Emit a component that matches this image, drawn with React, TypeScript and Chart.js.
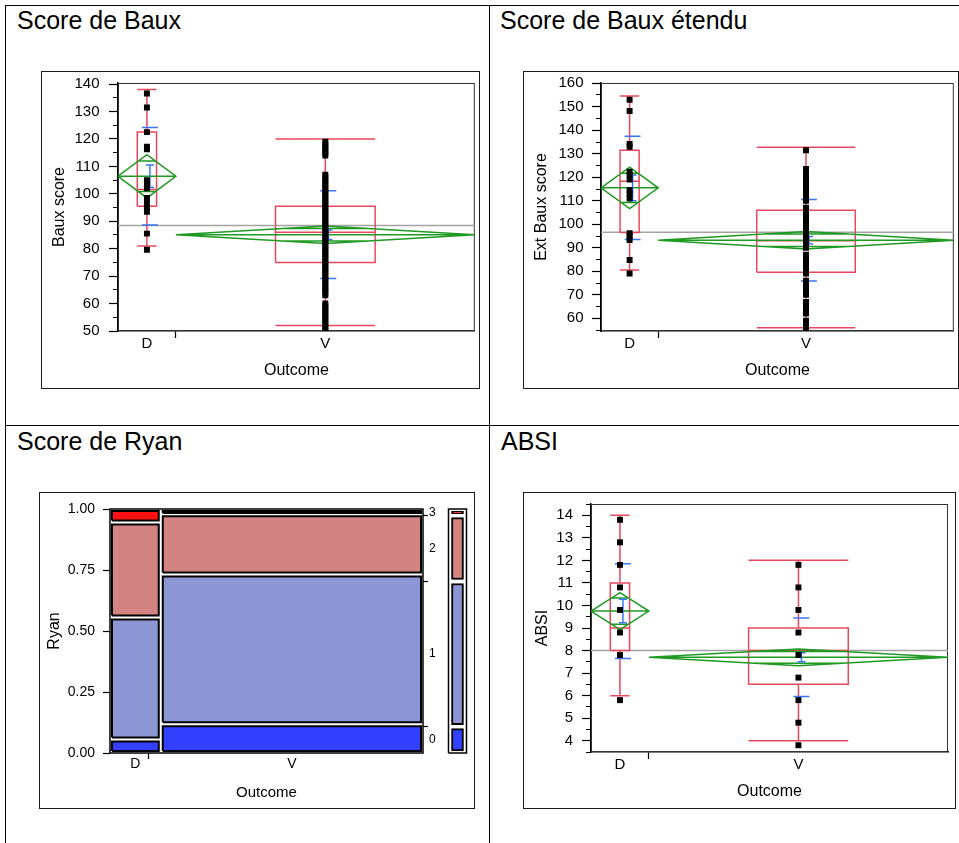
import React, { useEffect, useRef } from 'react';
import { Chart, registerables } from 'chart.js';

Chart.register(...registerables);

const FONT = "'Liberation Sans', Arial, Helvetica, sans-serif";
Chart.defaults.font.family = FONT;
Chart.defaults.color = '#000';

// ---------------- categories ----------------
const outcomeCategories = ['D', 'V'];
const outcomeCounts = [18, 93];

// ---------------- Score de Baux ----------------
const bauxYTicks = [50, 60, 70, 80, 90, 100, 110, 120, 130, 140];
const bauxPointsD = [136.6, 131.5, 122.5, 117.2, 116.2, 105, 103.5, 102, 98.5, 96.5, 95, 93.5, 85.5, 79.6];
const bauxPointsV = [
  50, 51, 52, 53, 54, 55, 56, 57, 58, 59, 60,
  63, 64, 65, 66, 67, 68, 69, 70, 71, 72, 73, 74, 75, 76, 77, 78, 79, 80, 81, 82, 83, 84, 85,
  86, 87, 88, 89, 90, 91, 92, 93, 94, 95, 96, 97, 98, 99, 100, 101, 102, 103, 104, 105, 106, 107,
  114, 115, 116, 117, 118, 119,
];
const bauxWhiskerLow = [81, 52];
const bauxQ1 = [95.5, 75];
const bauxMedian = [101.6, 86];
const bauxQ3 = [122.5, 95.5];
const bauxWhiskerHigh = [138, 120];
const bauxMean = [106.4, 85.1];
const bauxMeanCi = [7.9, 3.2];
const bauxStdDev = [17.8, 16];
const bauxStdErr = [4.1, 1.75];
const bauxGrandMean = 88.5;

// ---------------- Score de Baux étendu ----------------
const extYTicks = [60, 70, 80, 90, 100, 110, 120, 130, 140, 150, 160];
const extPointsD = [153, 148.2, 134.2, 133, 122.4, 121, 119, 114.6, 113, 111, 96.2, 95, 93.3, 84.8, 79.1];
const extPointsV = [
  56, 57, 58, 59,
  62, 63, 64, 65, 66, 67,
  70, 71, 72, 73, 74, 75, 76,
  79, 80, 81, 82, 83, 84, 85, 86, 87,
  90, 91, 92, 93, 94, 95, 96, 97, 98, 99, 100, 101, 102, 103, 104, 105, 106, 107,
  110, 111, 112, 113, 114, 115, 116, 117, 118, 119, 120, 121,
  123.5, 131.5,
];
const extWhiskerLow = [80.6, 56];
const extQ1 = [96.5, 79.6];
const extMedian = [118.3, 93];
const extQ3 = [131.5, 106];
const extWhiskerHigh = [154.6, 132.8];
const extMean = [115.5, 93.2];
const extMeanCi = [8.8, 3.75];
const extStdDev = [22, 17.3];
const extStdErr = [5.5, 1.6];
const extGrandMean = 96.6;

// ---------------- ABSI ----------------
const absiYTicks = [4, 5, 6, 7, 8, 9, 10, 11, 12, 13, 14];
const absiPointsD = [13.8, 12.8, 11.8, 10.8, 9.8, 8.8, 7.8, 5.8];
const absiPointsV = [11.8, 10.8, 9.8, 8.8, 7.8, 6.8, 5.8, 4.8, 3.8];
const absiWhiskerLow = [6, 4];
const absiQ1 = [8, 6.5];
const absiMedian = [9, 8];
const absiQ3 = [11, 9];
const absiWhiskerHigh = [14, 12];
const absiMean = [9.75, 7.7];
const absiMeanCi = [0.82, 0.37];
const absiStdDev = [2.1, 1.74];
const absiStdErr = [0.52, 0.2];
const absiGrandMean = 8.0;

// ---------------- Score de Ryan (mosaic) ----------------
const ryanLevels = ['0', '1', '2', '3'];
const ryanCountsD = [1, 9, 7, 1];
const ryanCountsV = [11, 57, 23, 2];
const ryanYTicks = [0, 0.25, 0.5, 0.75, 1];

// ---------------- styles ----------------
const RED = '#E8485C';
const GREEN = '#1E9A22';
const BLUE = '#3A76F2';
const GRAY = '#A3A3A3';
const RYAN_COLORS = ['#3341FF', '#8D96D5', '#D48383', '#FF1111'];

type Rect = { left: number; top: number; width: number; height: number };
type Plot = { left: number; top: number; right: number; bottom: number };

function cumulative(counts: number[]): number[] {
  const total = counts.reduce((a, b) => a + b, 0);
  const out = [0];
  let acc = 0;
  counts.forEach((c) => {
    acc += c;
    out.push(acc / total);
  });
  return out;
}

function categoryTicks(edges: number[]) {
  const list: { value: number; label: string; boundary: boolean }[] = [];
  outcomeCategories.forEach((cat, i) => {
    list.push({ value: (edges[i] + edges[i + 1]) / 2, label: cat, boundary: false });
    if (i < outcomeCategories.length - 1) list.push({ value: edges[i + 1], label: '', boundary: true });
  });
  return list.sort((a, b) => a.value - b.value);
}

const framePlugin = (color: string, width: number) => ({
  id: 'plotFrame',
  beforeDatasetsDraw(chart: any) {
    const { ctx, chartArea } = chart;
    const { left, top, right, bottom } = chartArea;
    ctx.save();
    ctx.strokeStyle = color;
    ctx.lineWidth = width;
    ctx.strokeRect(left + 0.5, top + 0.5, right - left - 1, bottom - top - 1);
    ctx.restore();
  },
});

interface BoxSpec {
  yTitle: string;
  yMin: number;
  yMax: number;
  yTicks: number[];
  points: number[][];
  whiskerLow: number[];
  q1: number[];
  median: number[];
  q3: number[];
  whiskerHigh: number[];
  mean: number[];
  meanCi: number[];
  sd: number[];
  se: number[];
  grandMean: number;
  canvas: Rect;
  plot: Plot;
  yTitleX: number;
  xTitleY: number;
  yLabelRight: number;
}

function makeBoxConfig(spec: BoxSpec): any {
  const edges = cumulative(outcomeCounts);
  const plotW = spec.plot.right - spec.plot.left;
  const px = (p: number) => p / plotW;
  const red: any[] = [];
  const green: any[] = [];
  const blue: any[] = [];
  const gray: any[] = [];
  const pts: any[] = [];
  const seg = (arr: any[], x0: number, y0: number, x1: number, y1: number) => {
    arr.push({ x: x0, y: y0 }, { x: x1, y: y1 }, { x: x1, y: null });
  };
  const poly = (arr: any[], list: number[][]) => {
    list.forEach(([x, y]) => arr.push({ x, y }));
    arr.push({ x: list[list.length - 1][0], y: null });
  };

  outcomeCategories.forEach((_, i) => {
    const a = edges[i];
    const b = edges[i + 1];
    const c = (a + b) / 2;
    const w = b - a;
    const m = spec.mean[i];
    const h = spec.meanCi[i];
    // means diamond
    poly(green, [[a, m], [c, m + h], [b, m], [c, m - h], [a, m]]);
    seg(green, a, m, b, m);
    const d = h / Math.SQRT2;
    const hw = (w / 2) * (1 - 1 / Math.SQRT2);
    seg(green, c - hw, m + d, c + hw, m + d);
    seg(green, c - hw, m - d, c + hw, m - d);
    // box plot
    const bw = w / 6;
    const q1 = spec.q1[i];
    const q3 = spec.q3[i];
    poly(red, [[c - bw, q1], [c + bw, q1], [c + bw, q3], [c - bw, q3], [c - bw, q1]]);
    seg(red, c - bw, spec.median[i], c + bw, spec.median[i]);
    seg(red, c, spec.whiskerLow[i], c, q1);
    seg(red, c, q3, c, spec.whiskerHigh[i]);
    seg(red, c - bw, spec.whiskerLow[i], c + bw, spec.whiskerLow[i]);
    seg(red, c - bw, spec.whiskerHigh[i], c + bw, spec.whiskerHigh[i]);
    // std dev lines and mean error bars
    const bo = c + px(3);
    const sh = px(8);
    const ch = px(4);
    const sd = spec.sd[i];
    const se = spec.se[i];
    seg(blue, bo - sh, m + sd, bo + sh, m + sd);
    seg(blue, bo - sh, m - sd, bo + sh, m - sd);
    seg(blue, bo, m - se, bo, m + se);
    seg(blue, bo - ch, m - se, bo + ch, m - se);
    seg(blue, bo - ch, m + se, bo + ch, m + se);
    spec.points[i].forEach((v) => pts.push({ x: c, y: v }));
  });
  seg(gray, 0, spec.grandMean, 1, spec.grandMean);

  const lineDs = (label: string, data: any[], color: string, width: number) => ({
    type: 'scatter',
    label,
    data,
    showLine: true,
    borderColor: color,
    borderWidth: width,
    pointRadius: 0,
    pointHoverRadius: 0,
    fill: false,
    spanGaps: false,
    tension: 0,
  });

  const ticksX = categoryTicks(edges);
  const step = spec.yTicks[1] - spec.yTicks[0];
  const isMajor = (v: number) => spec.yTicks.some((t) => Math.abs(t - v) < step / 100);
  const yAll: number[] = [];
  spec.yTicks.forEach((t) => {
    yAll.push(t);
    yAll.push(t - step / 2);
    yAll.push(t + step / 2);
  });
  const yTickValues = Array.from(new Set(yAll.map((v) => Math.round(v * 1000) / 1000)))
    .filter((v) => v >= spec.yMin - 1e-9 && v <= spec.yMax + 1e-9)
    .sort((a, b) => a - b);

  const { canvas, plot } = spec;
  const yAxisW = plot.left - canvas.left;
  const xAxisH = canvas.top + canvas.height - plot.bottom;
  const titleSize = 16;
  const lh = titleSize * 1.2;

  return {
    type: 'scatter',
    data: {
      datasets: [
        {
          type: 'scatter',
          label: 'values',
          data: pts,
          showLine: false,
          pointStyle: 'rect',
          pointRadius: 4.2,
          pointHoverRadius: 4.2,
          pointBackgroundColor: '#000',
          pointBorderWidth: 0,
        },
        lineDs('std dev / mean error', blue, BLUE, 1.5),
        lineDs('means diamond', green, GREEN, 1.5),
        lineDs('box plot', red, RED, 1.5),
        lineDs('grand mean', gray, GRAY, 1.5),
      ],
    },
    options: {
      animation: false,
      responsive: false,
      events: [],
      layout: {
        padding: {
          left: 0,
          top: plot.top - canvas.top,
          right: canvas.left + canvas.width - plot.right,
          bottom: 0,
        },
      },
      plugins: { legend: { display: false }, tooltip: { enabled: false } },
      scales: {
        x: {
          type: 'linear',
          min: 0,
          max: 1,
          offset: false,
          afterBuildTicks: (s: any) => {
            s.ticks = ticksX.map((t) => ({ value: t.value }));
          },
          afterFit: (s: any) => {
            s.height = xAxisH;
            s.paddingLeft = 0;
            s.paddingRight = 0;
          },
          ticks: {
            autoSkip: false,
            maxRotation: 0,
            minRotation: 0,
            padding: -3,
            font: { size: 15 },
            color: '#000',
            callback: (_v: any, i: number) => ticksX[i].label,
          },
          grid: {
            drawOnChartArea: false,
            tickLength: 7,
            tickWidth: 1.2,
            tickColor: (ctx: any) => (ticksX[ctx.index] && ticksX[ctx.index].boundary ? '#000' : 'rgba(0,0,0,0)'),
          },
          border: { color: '#000', width: 1.5 },
          title: {
            display: true,
            text: 'Outcome',
            color: '#000',
            font: { size: titleSize },
            padding: { top: 0, bottom: canvas.top + canvas.height - spec.xTitleY - lh / 2 },
          },
        },
        y: {
          type: 'linear',
          min: spec.yMin,
          max: spec.yMax,
          afterBuildTicks: (s: any) => {
            s.ticks = yTickValues.map((v) => ({ value: v }));
          },
          afterFit: (s: any) => {
            s.width = yAxisW;
            s.paddingTop = 0;
            s.paddingBottom = 0;
          },
          ticks: {
            autoSkip: false,
            padding: plot.left - 9 - spec.yLabelRight,
            font: { size: 15 },
            color: '#000',
            callback: (v: number) => (isMajor(v) ? String(Math.round(v)) : ''),
          },
          grid: {
            drawOnChartArea: false,
            tickLength: 9,
            tickWidth: 1.2,
            tickColor: '#000',
            tickBorderDash: (ctx: any) => (ctx.tick && isMajor(ctx.tick.value) ? [] : [0, 4, 5, 100]),
          },
          border: { color: '#000', width: 1.5 },
          title: {
            display: true,
            text: spec.yTitle,
            color: '#000',
            font: { size: titleSize },
            padding: { top: spec.yTitleX - canvas.left - lh / 2, bottom: 0 },
          },
        },
      },
    },
    plugins: [framePlugin('#333', 1)],
  };
}

// mosaic geometry (style constants, in pixels)
const MOSAIC_CANVAS: Rect = { left: 40, top: 493, width: 434, height: 315 };
const MOSAIC_PLOT: Plot = { left: 110, top: 509, right: 423, bottom: 753 };
const MOSAIC_Y2_WIDTH = 16;
const MARGIN_FRAME_PX = [448.5, 466.5];
const MARGIN_BAR_CENTER_PX = 457.5;

function makeMosaicConfig(): any {
  const edges = cumulative(outcomeCounts);
  const plotW = MOSAIC_PLOT.right - MOSAIC_PLOT.left;
  const plotH = MOSAIC_PLOT.bottom - MOSAIC_PLOT.top;
  const gx = 2 / plotW;
  const gy = 2 / plotH;
  const toX = (p: number) => (p - MOSAIC_PLOT.left) / plotW;

  const datasets: any[] = [];
  [ryanCountsD, ryanCountsV].forEach((counts, i) => {
    const cum = cumulative(counts);
    counts.forEach((_, j) => {
      const x0 = edges[i] + gx;
      const x1 = edges[i + 1] - gx;
      const y1 = cum[j + 1] - gy;
      let y0 = cum[j] + gy;
      if (y1 - y0 < gy) y0 = y1 - gy;
      datasets.push({
        type: 'scatter',
        label: `${outcomeCategories[i]} / Ryan ${ryanLevels[j]}`,
        data: [
          { x: x0, y: y0 },
          { x: x1, y: y0 },
          { x: x1, y: y1 },
          { x: x0, y: y1 },
          { x: x0, y: y0 },
        ],
        showLine: true,
        fill: 'shape',
        backgroundColor: RYAN_COLORS[j],
        borderColor: '#000',
        borderWidth: 2,
        borderJoinStyle: 'miter',
        pointRadius: 0,
        pointHoverRadius: 0,
        tension: 0,
      });
    });
  });

  const totals = ryanLevels.map((_, j) => ryanCountsD[j] + ryanCountsV[j]);
  const mcum = cumulative(totals);
  const barX = toX(MARGIN_BAR_CENTER_PX);
  datasets.push({
    type: 'bar',
    label: 'Ryan (all)',
    data: totals.map((_, j) => ({ x: barX, y: [mcum[j] + gy, mcum[j + 1] - gy] })),
    backgroundColor: RYAN_COLORS,
    borderColor: '#000',
    borderWidth: 2,
    borderSkipped: false,
    barThickness: 12,
    grouped: false,
    clip: false,
  });
  const fx0 = toX(MARGIN_FRAME_PX[0]);
  const fx1 = toX(MARGIN_FRAME_PX[1]);
  datasets.push({
    type: 'scatter',
    label: 'margin frame',
    data: [
      { x: fx0, y: 0 },
      { x: fx1, y: 0 },
      { x: fx1, y: 1 },
      { x: fx0, y: 1 },
      { x: fx0, y: 0 },
    ],
    showLine: true,
    fill: false,
    borderColor: '#000',
    borderWidth: 1.5,
    pointRadius: 0,
    clip: false,
  });

  // right axis: boundaries (tick marks) and level labels at the middle of each level
  const rightTicks: { value: number; label: string; boundary: boolean }[] = [];
  ryanLevels.forEach((lvl, j) => {
    rightTicks.push({ value: (mcum[j] + mcum[j + 1]) / 2, label: lvl, boundary: false });
    if (j < ryanLevels.length - 1) rightTicks.push({ value: mcum[j + 1], label: '', boundary: true });
  });
  rightTicks.sort((a, b) => a.value - b.value);

  const ticksX = categoryTicks(edges);
  const c = MOSAIC_CANVAS;
  const p = MOSAIC_PLOT;
  const xTitleSize = 15;
  const yTitleSize = 16;

  return {
    type: 'scatter',
    data: { datasets },
    options: {
      animation: false,
      responsive: false,
      events: [],
      layout: {
        padding: { left: 0, top: p.top - c.top, right: c.left + c.width - p.right - MOSAIC_Y2_WIDTH, bottom: 0 },
      },
      plugins: { legend: { display: false }, tooltip: { enabled: false } },
      scales: {
        x: {
          type: 'linear',
          min: 0,
          max: 1,
          offset: false,
          afterBuildTicks: (s: any) => {
            s.ticks = ticksX.map((t) => ({ value: t.value }));
          },
          afterFit: (s: any) => {
            s.height = c.top + c.height - p.bottom;
            s.paddingLeft = 0;
            s.paddingRight = 0;
          },
          ticks: {
            autoSkip: false,
            maxRotation: 0,
            minRotation: 0,
            padding: -3,
            font: { size: 14 },
            color: '#000',
            callback: (_v: any, i: number) => ticksX[i].label,
          },
          grid: {
            drawOnChartArea: false,
            tickLength: 6,
            tickWidth: 1.2,
            tickColor: (ctx: any) => (ticksX[ctx.index] && ticksX[ctx.index].boundary ? '#000' : 'rgba(0,0,0,0)'),
          },
          border: { display: false },
          title: {
            display: true,
            text: 'Outcome',
            color: '#000',
            font: { size: xTitleSize },
            padding: { top: 0, bottom: c.top + c.height - 792.7 - (xTitleSize * 1.2) / 2 },
          },
        },
        y: {
          type: 'linear',
          min: 0,
          max: 1,
          afterBuildTicks: (s: any) => {
            s.ticks = ryanYTicks.map((v) => ({ value: v }));
          },
          afterFit: (s: any) => {
            s.width = p.left - c.left;
            s.paddingTop = 0;
            s.paddingBottom = 0;
          },
          ticks: {
            autoSkip: false,
            padding: 8,
            font: { size: 14 },
            color: '#000',
            callback: (v: number) => v.toFixed(2),
          },
          grid: { drawOnChartArea: false, tickLength: 7, tickWidth: 1.2, tickColor: '#000' },
          border: { display: false },
          title: {
            display: true,
            text: 'Ryan',
            color: '#000',
            font: { size: yTitleSize },
            padding: { top: 54.3 - c.left - (yTitleSize * 1.2) / 2, bottom: 0 },
          },
        },
        y2: {
          type: 'linear',
          position: 'right',
          min: 0,
          max: 1,
          afterBuildTicks: (s: any) => {
            s.ticks = rightTicks.map((t) => ({ value: t.value }));
          },
          afterFit: (s: any) => {
            s.width = MOSAIC_Y2_WIDTH;
            s.paddingTop = 0;
            s.paddingBottom = 0;
          },
          ticks: {
            autoSkip: false,
            padding: 1,
            font: { size: 12 },
            color: '#000',
            callback: (_v: any, i: number) => rightTicks[i].label,
          },
          grid: {
            drawOnChartArea: false,
            tickLength: 5,
            tickWidth: 1.2,
            tickColor: (ctx: any) => (rightTicks[ctx.index] && rightTicks[ctx.index].boundary ? '#000' : 'rgba(0,0,0,0)'),
          },
          border: { display: false },
        },
      },
    },
    plugins: [
      {
        id: 'mosaicFrame',
        afterDatasetsDraw(chart: any) {
          const { ctx, chartArea } = chart;
          ctx.save();
          ctx.strokeStyle = '#000';
          ctx.lineWidth = 1.5;
          ctx.strokeRect(chartArea.left, chartArea.top, chartArea.right - chartArea.left, chartArea.bottom - chartArea.top);
          ctx.restore();
        },
      },
    ],
  };
}

const bauxSpec: BoxSpec = {
  yTitle: 'Baux score',
  yMin: 50,
  yMax: 140.4,
  yTicks: bauxYTicks,
  points: [bauxPointsD, bauxPointsV],
  whiskerLow: bauxWhiskerLow,
  q1: bauxQ1,
  median: bauxMedian,
  q3: bauxQ3,
  whiskerHigh: bauxWhiskerHigh,
  mean: bauxMean,
  meanCi: bauxMeanCi,
  sd: bauxStdDev,
  se: bauxStdErr,
  grandMean: bauxGrandMean,
  canvas: { left: 42, top: 72, width: 437, height: 316 },
  plot: { left: 118, top: 83, right: 475, bottom: 331 },
  yTitleX: 59.3,
  xTitleY: 370.7,
  yLabelRight: 99.5,
};

const extSpec: BoxSpec = {
  yTitle: 'Ext Baux score',
  yMin: 54.6,
  yMax: 160.1,
  yTicks: extYTicks,
  points: [extPointsD, extPointsV],
  whiskerLow: extWhiskerLow,
  q1: extQ1,
  median: extMedian,
  q3: extQ3,
  whiskerHigh: extWhiskerHigh,
  mean: extMean,
  meanCi: extMeanCi,
  sd: extStdDev,
  se: extStdErr,
  grandMean: extGrandMean,
  canvas: { left: 524, top: 72, width: 434, height: 316 },
  plot: { left: 601, top: 83, right: 957, bottom: 331 },
  yTitleX: 541.7,
  xTitleY: 371,
  yLabelRight: 583.5,
};

const absiSpec: BoxSpec = {
  yTitle: 'ABSI',
  yMin: 3.5,
  yMax: 14.5,
  yTicks: absiYTicks,
  points: [absiPointsD, absiPointsV],
  whiskerLow: absiWhiskerLow,
  q1: absiQ1,
  median: absiMedian,
  q3: absiQ3,
  whiskerHigh: absiWhiskerHigh,
  mean: absiMean,
  meanCi: absiMeanCi,
  sd: absiStdDev,
  se: absiStdErr,
  grandMean: absiGrandMean,
  canvas: { left: 524, top: 493, width: 431, height: 315 },
  plot: { left: 591, top: 504, right: 948, bottom: 752 },
  yTitleX: 542.7,
  xTitleY: 791.7,
  yLabelRight: 573,
};

function ChartCanvas({ rect, build }: { rect: Rect; build: () => any }) {
  const ref = useRef<HTMLCanvasElement | null>(null);
  useEffect(() => {
    if (!ref.current) return;
    const chart = new Chart(ref.current, build());
    return () => chart.destroy();
  }, []);
  return (
    <canvas
      ref={ref}
      width={rect.width}
      height={rect.height}
      style={{ position: 'absolute', left: rect.left, top: rect.top, width: rect.width, height: rect.height }}
    />
  );
}

const line = (left: number, top: number, width: number, height: number, color = '#000') => (
  <div style={{ position: 'absolute', left, top, width, height, background: color }} />
);

const frameBox = (left: number, top: number, width: number, height: number) => (
  <div
    style={{
      position: 'absolute',
      left,
      top,
      width,
      height,
      boxSizing: 'border-box',
      border: '1px solid #1a1a1a',
    }}
  />
);

const titleDiv = (text: string, left: number, top: number) => (
  <div
    style={{
      position: 'absolute',
      left,
      top,
      fontFamily: FONT,
      fontSize: 25,
      lineHeight: '25px',
      color: '#000',
      whiteSpace: 'nowrap',
    }}
  >
    {text}
  </div>
);

export default function App() {
  return (
    <div
      style={{
        position: 'absolute',
        left: 0,
        top: 0,
        width: 959,
        height: 843,
        overflow: 'hidden',
        background: '#fff',
      }}
    >
      {line(5, 5, 954, 1)}
      {line(5, 5, 1, 838)}
      {line(489, 5, 1, 838)}
      {line(5, 425, 954, 1)}

      {titleDiv('Score de Baux', 17, 8)}
      {titleDiv('Score de Baux étendu', 500, 8)}
      {titleDiv('Score de Ryan', 17, 429)}
      {titleDiv('ABSI', 501, 429)}

      {frameBox(41, 71, 439, 318)}
      {frameBox(523, 71, 436, 318)}
      {frameBox(39, 492, 436, 317)}
      {frameBox(523, 492, 433, 317)}

      <ChartCanvas rect={bauxSpec.canvas} build={() => makeBoxConfig(bauxSpec)} />
      <ChartCanvas rect={extSpec.canvas} build={() => makeBoxConfig(extSpec)} />
      <ChartCanvas rect={MOSAIC_CANVAS} build={makeMosaicConfig} />
      <ChartCanvas rect={absiSpec.canvas} build={() => makeBoxConfig(absiSpec)} />
    </div>
  );
}
